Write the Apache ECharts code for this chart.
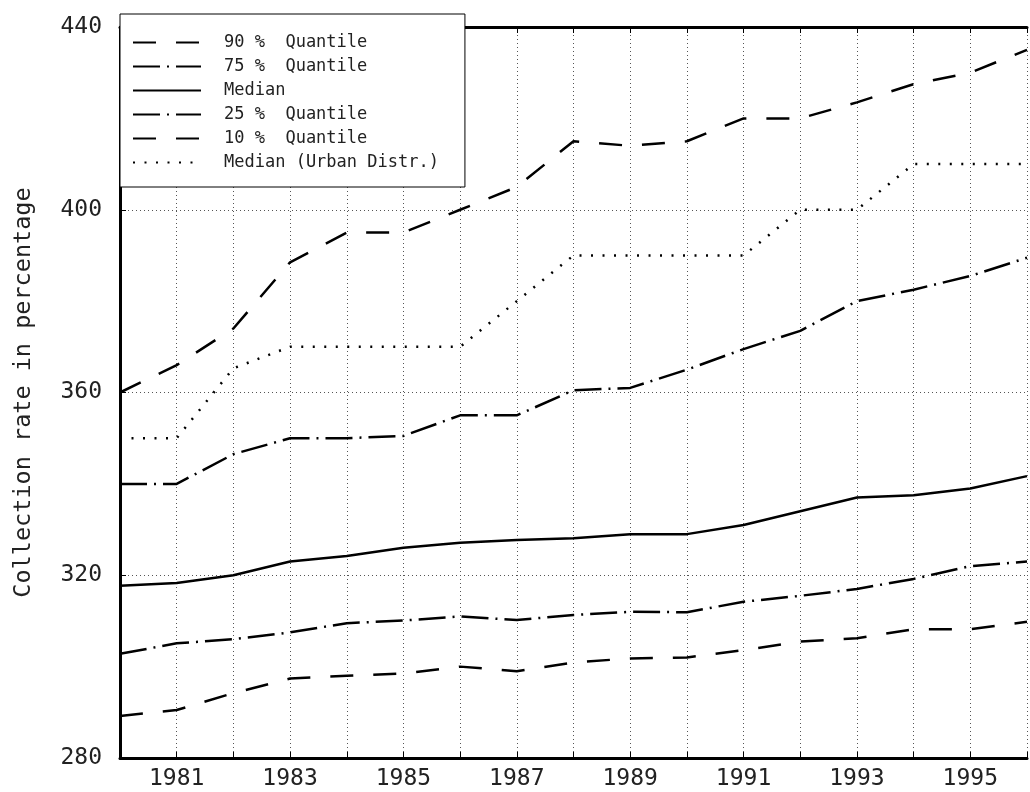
<!DOCTYPE html>
<html>
<head>
<meta charset="utf-8">
<script src="https://cdn.jsdelivr.net/npm/echarts@6/dist/echarts.min.js"></script>
<style>
html,body{margin:0;padding:0;background:#fff;}
#chart{width:1030px;height:792px;}
</style>
</head>
<body>
<div id="chart"></div>
<script>
const years = [1980,1981,1982,1983,1984,1985,1986,1987,1988,1989,1990,1991,1992,1993,1994,1995,1996];
const q90   = [360,366,374,388.5,395,395,400,405,415,414,415,420,420,423.5,427.5,430,435];
const q75   = [340,340,346.5,350,350,350.5,355,355,360.5,361,365,369.5,373.5,380,382.5,385.5,389.5];
const med   = [317.7,318.3,320,323,324.2,326,327.1,327.7,328.1,329,329,331,334,337,337.5,339,341.7];
const q25   = [302.8,305.1,306,307.5,309.5,310.1,311,310.2,311.3,312,311.9,314.2,315.5,317,319.2,322,323];
const q10   = [289.2,290.5,294.2,297.4,298,298.5,300,299,300.9,301.8,302,303.6,305.5,306.2,308.2,308.2,309.8];
const urban = [350,350,365.3,370,370,370,370,380,390,390,390,390,400,400,410,410,410];
const seriesNames = ['90 %  Quantile','75 %  Quantile','Median','25 %  Quantile','10 %  Quantile','Median (Urban Distr.)'];

const FONT = 'DejaVu Sans Mono';
const TXT = '#222';
const dashLong = [23, 20];
const dashDot = [27, 7, 2, 7];
const dotted = [2, 9.5];

function pairs(arr){ return years.map((y,i)=>[y,arr[i]]); }
function mk(name, arr, dash){
  return {
    name: name, type: 'line', data: pairs(arr), symbol: 'none', showSymbol: false,
    lineStyle: {color:'#000', width: 2.5, type: dash, cap: 'butt'},
    itemStyle: {color:'#000'},
    emphasis: {disabled: true}, animation: false
  };
}

const chart = echarts.init(document.getElementById('chart'));
chart.setOption({
  animation: false,
  backgroundColor: '#fff',
  grid: {left: 120, right: 0, top: 27, bottom: 34},
  legend: {
    left: 120, top: 14, orient: 'vertical',
    backgroundColor: '#fff', borderColor: '#000', borderWidth: 1,
    padding: [20, 26, 16, 12],
    itemWidth: 68, itemHeight: 14, itemGap: 7,
    itemStyle: {opacity: 0},
    textStyle: {fontFamily: FONT, fontSize: 17, color: TXT, padding: [0,0,0,18]},
    data: seriesNames
  },
  xAxis: [{
    type: 'value', min: 1980, max: 1996, interval: 1,
    axisLine: {show: true, lineStyle: {color:'#000', width: 3}},
    axisTick: {show: true, inside: true, length: 6, lineStyle: {color:'#000', width: 1}},
    axisLabel: {fontFamily: FONT, fontSize: 23, color: TXT, margin: 10,
      formatter: v => (v % 2 === 1 ? String(v) : '')},
    splitLine: {show: true, lineStyle: {color:'#555', width: 1, type: [1, 3]}}
  },{
    type: 'value', position: 'top', min: 1980, max: 1996, interval: 1,
    axisLine: {show: true, lineStyle: {color:'#000', width: 3}},
    axisTick: {show: true, inside: true, length: 6, lineStyle: {color:'#000', width: 1}},
    axisLabel: {show: false}, splitLine: {show: false}
  }],
  yAxis: {
    type: 'value', min: 280, max: 440, interval: 40,
    name: 'Collection rate in percentage', nameLocation: 'middle', nameGap: 84,
    nameTextStyle: {fontFamily: FONT, fontSize: 23.5, color: TXT},
    axisLine: {show: true, lineStyle: {color:'#000', width: 3}},
    axisTick: {show: true, inside: true, length: 6, lineStyle: {color:'#000', width: 1}},
    axisLabel: {fontFamily: FONT, fontSize: 23, color: TXT, margin: 18},
    splitLine: {show: true, lineStyle: {color:'#555', width: 1, type: [1, 3]}}
  },
  series: [
    mk(seriesNames[0], q90, dashLong),
    mk(seriesNames[1], q75, dashDot),
    mk(seriesNames[2], med, 'solid'),
    mk(seriesNames[3], q25, dashDot),
    mk(seriesNames[4], q10, dashLong),
    mk(seriesNames[5], urban, dotted)
  ]
});
</script>
</body>
</html>
